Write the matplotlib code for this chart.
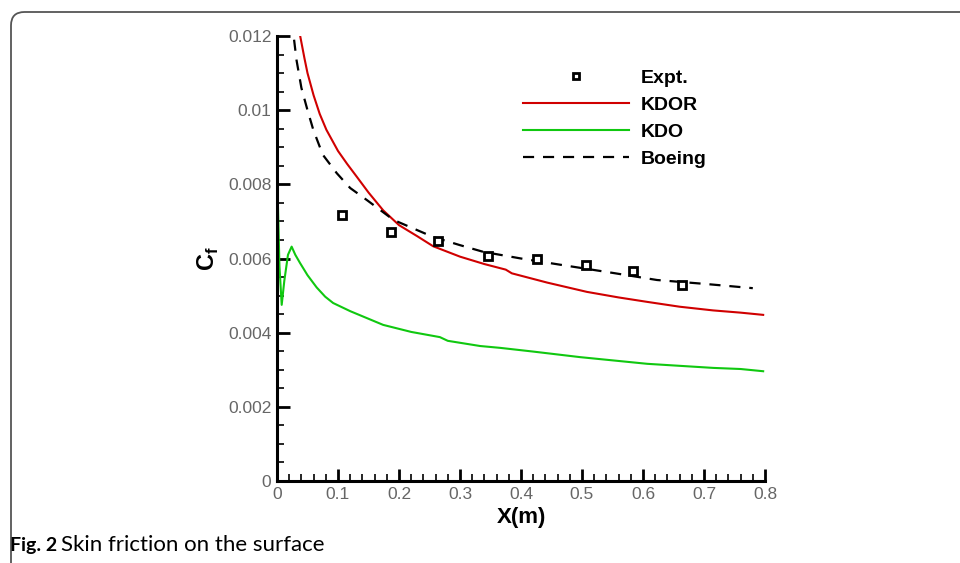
import matplotlib
matplotlib.use("Agg")
import matplotlib.pyplot as plt
from matplotlib.patches import FancyBboxPatch
from matplotlib.ticker import MultipleLocator

# experiment points
expt_x = [0.107, 0.187, 0.264, 0.346, 0.426, 0.507, 0.584, 0.664]
expt_cf = [0.00717, 0.00671, 0.00647, 0.00607, 0.00599, 0.00582, 0.00566, 0.00529]

# KDOR
kdor_x = [0.038, 0.045, 0.05, 0.06, 0.07, 0.081, 0.1, 0.115, 0.131, 0.15, 0.174, 0.2,
          0.23, 0.256, 0.3, 0.34, 0.375, 0.385, 0.443, 0.508, 0.56, 0.607, 0.66, 0.715,
          0.76, 0.797]
kdor_cf = [0.0120, 0.0114, 0.0110, 0.0104, 0.0099, 0.00947, 0.0089, 0.00855, 0.0082,
           0.00778, 0.0073, 0.0069, 0.0066, 0.00633, 0.00605, 0.00585, 0.0057, 0.0056,
           0.00535, 0.0051, 0.00495, 0.00483, 0.0047, 0.0046, 0.00454, 0.00448]

# KDO
kdo_x = [0.001, 0.004, 0.0077, 0.012, 0.018, 0.024, 0.03, 0.0377, 0.05, 0.065, 0.079,
         0.092, 0.12, 0.174, 0.22, 0.267, 0.28, 0.333, 0.366, 0.42, 0.497, 0.607, 0.715,
         0.76, 0.797]
kdo_cf = [0.0078, 0.0058, 0.00475, 0.0054, 0.0061, 0.00632, 0.0061, 0.00588, 0.00555,
          0.00522, 0.00497, 0.0048, 0.00458, 0.00421, 0.00402, 0.00388, 0.00378, 0.00364,
          0.00359, 0.00349, 0.00334, 0.00316, 0.00305, 0.00302, 0.00296]

# Boeing
boeing_x = [0.028, 0.032, 0.04, 0.05, 0.0595, 0.075, 0.098, 0.12, 0.147, 0.191, 0.256,
            0.3, 0.338, 0.4, 0.469, 0.551, 0.623, 0.705, 0.78]
boeing_cf = [0.0119, 0.01135, 0.0106, 0.0100, 0.00947, 0.0088, 0.0083, 0.0079, 0.00758,
             0.00704, 0.00658, 0.00636, 0.00618, 0.006, 0.00582, 0.00561, 0.00542,
             0.00531, 0.0052]

xticks = [0, 0.1, 0.2, 0.3, 0.4, 0.5, 0.6, 0.7, 0.8]
xtick_labels = ["0", "0.1", "0.2", "0.3", "0.4", "0.5", "0.6", "0.7", "0.8"]
yticks = [0, 0.002, 0.004, 0.006, 0.008, 0.01, 0.012]
ytick_labels = ["0", "0.002", "0.004", "0.006", "0.008", "0.01", "0.012"]

plt.rcParams['font.family'] = ['Liberation Sans', 'DejaVu Sans']

fig = plt.figure(figsize=(9.6, 5.63), dpi=100)
ax = fig.add_axes([277/960, 1-481/563, (765-277)/960, (481-36)/563])

ax.plot(kdor_x, kdor_cf, color="#d00000", lw=1.5, label="KDOR")
ax.plot(kdo_x, kdo_cf, color="#10c810", lw=1.5, label="KDO")
ax.plot(boeing_x, boeing_cf, color="black", lw=1.6, dashes=(5, 4), label="Boeing")
ax.plot(expt_x, expt_cf, ls="none", marker="s", ms=6, mfc="white", mec="black", mew=2,
        label="Expt.")

ax.set_xlim(0, 0.8)
ax.set_ylim(0, 0.012)
ax.set_xticks(xticks)
ax.set_xticklabels(xtick_labels, family="Liberation Sans")
ax.set_yticks(yticks)
ax.set_yticklabels(ytick_labels, family="Liberation Sans")
ax.xaxis.set_minor_locator(MultipleLocator(0.02))
ax.yaxis.set_minor_locator(MultipleLocator(0.0005))

for s in ["top", "right"]:
    ax.spines[s].set_visible(False)
for s in ["left", "bottom"]:
    ax.spines[s].set_linewidth(2.2)
ax.tick_params(which="major", direction="in", length=9, width=2, labelsize=12.5,
               labelcolor="#666666", pad=4)
ax.tick_params(which="minor", direction="in", length=5, width=1.2)

ax.set_xlabel("X(m)", fontsize=16, fontweight="bold", labelpad=4)
ax.set_ylabel("C$_\\mathregular{f}$", fontsize=17, fontweight="bold", labelpad=5)

handles, labels = ax.get_legend_handles_labels()
order = [3, 0, 1, 2]
leg = ax.legend([handles[i] for i in order], [labels[i] for i in order],
                loc="upper left", bbox_to_anchor=(505/960, 1-52/563),
                bbox_transform=fig.transFigure, frameon=False, handlelength=5.5,
                handletextpad=0.6, labelspacing=0.48, prop={"size": 14, "weight": "bold"},
                markerscale=0.8)

# caption
fig.text(10/960, 1-545/563, "Fig. 2", fontsize=14, fontweight="bold",
         family=["Lato", "DejaVu Sans"], va="center")
fig.text(61/960, 1-545/563, "Skin friction on the surface", fontsize=16,
         family=["Lato", "DejaVu Sans"], va="center")

# rounded frame
frame = FancyBboxPatch((11/960, -0.2), 1.2, 1 - 12/563 + 0.2,
                       boxstyle="round,pad=0,rounding_size=0.014",
                       transform=fig.transFigure, fill=False, ec="#555555", lw=1.3,
                       mutation_aspect=960/563, clip_on=False)
fig.patches.append(frame)

fig.savefig("out.png", dpi=100)
